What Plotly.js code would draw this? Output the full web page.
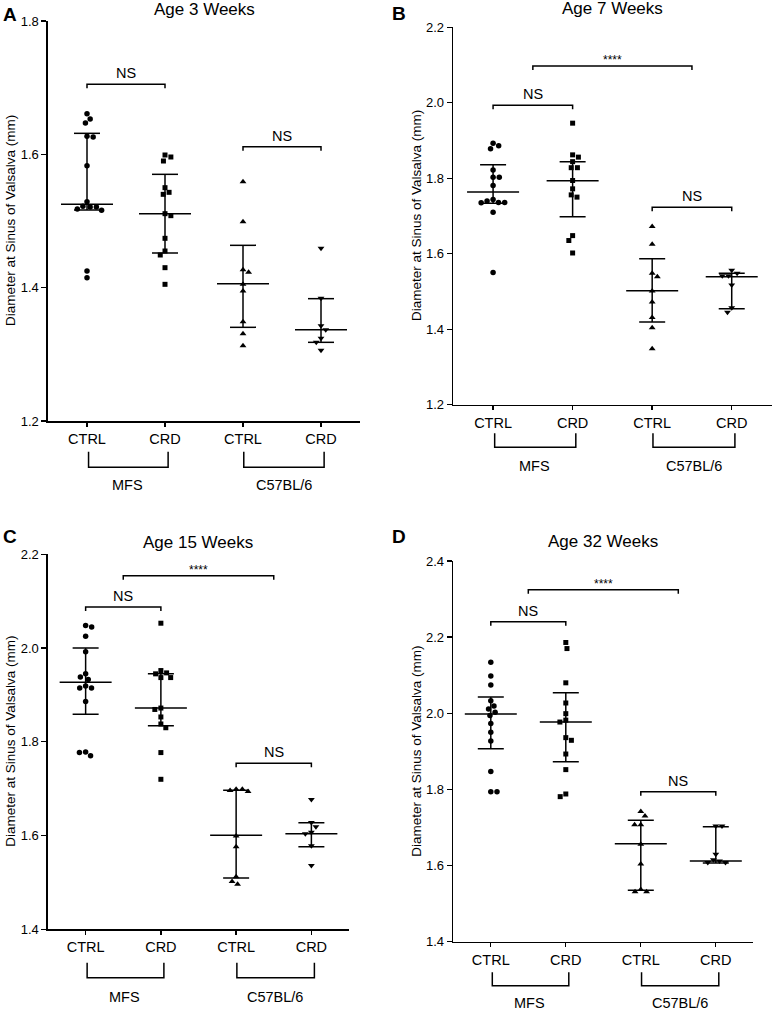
<!DOCTYPE html>
<html>
<head>
<meta charset="utf-8">
<script src="https://cdn.plot.ly/plotly-3.0.1.min.js"></script>
<style>html,body{margin:0;padding:0;background:#fff;}#chart{width:773px;height:1010px;}</style>
</head>
<body>
<div id="chart"></div>
<script>
// ---------------- DATA ----------------
const categories = ['CTRL', 'CRD', 'CTRL', 'CRD'];
const groups = ['MFS', 'C57BL/6'];
const panelTitles = ['Age 3 Weeks', 'Age 7 Weeks', 'Age 15 Weeks', 'Age 32 Weeks'];
const panelLetters = ['A', 'B', 'C', 'D'];
const yTitle = 'Diameter at Sinus of Valsalva (mm)';

// Age 3 weeks
const w3_mfs_ctrl = [1.661, 1.653, 1.647, 1.627, 1.626, 1.583, 1.529, 1.522, 1.521, 1.521, 1.518, 1.516, 1.425, 1.415];
const w3_mfs_crd  = [1.599, 1.596, 1.590, 1.550, 1.543, 1.540, 1.511, 1.508, 1.474, 1.455, 1.449, 1.430, 1.405];
const w3_c57_ctrl = [1.559, 1.499, 1.427, 1.423, 1.405, 1.395, 1.349, 1.331, 1.313];
const w3_c57_crd  = [1.459, 1.384, 1.343, 1.337, 1.324, 1.318, 1.306];
const w3_median = [1.525, 1.511, 1.406, 1.337];
const w3_q1     = [1.5165, 1.452, 1.3405, 1.318];
const w3_q3     = [1.6315, 1.570, 1.4635, 1.3835];

// Age 7 weeks
const w7_mfs_ctrl = [1.893, 1.886, 1.878, 1.822, 1.803, 1.803, 1.781, 1.744, 1.740, 1.736, 1.736, 1.735, 1.710, 1.550];
const w7_mfs_crd  = [1.946, 1.862, 1.856, 1.844, 1.828, 1.828, 1.794, 1.772, 1.756, 1.750, 1.648, 1.635, 1.602];
const w7_c57_ctrl = [1.672, 1.625, 1.548, 1.539, 1.501, 1.472, 1.431, 1.404, 1.348];
const w7_c57_crd  = [1.556, 1.548, 1.542, 1.542, 1.517, 1.457, 1.445];
const w7_median = [1.7636, 1.7935, 1.502, 1.539];
const w7_q1     = [1.7336, 1.698, 1.419, 1.4544];
const w7_q3     = [1.836, 1.844, 1.587, 1.548];

// Age 15 weeks
const w15_mfs_ctrl = [2.048, 2.045, 2.025, 1.992, 1.945, 1.938, 1.933, 1.919, 1.915, 1.915, 1.886, 1.778, 1.777, 1.770];
const w15_mfs_crd  = [2.053, 1.952, 1.947, 1.945, 1.937, 1.937, 1.872, 1.869, 1.853, 1.838, 1.830, 1.777, 1.720];
const w15_c57_ctrl = [1.699, 1.699, 1.696, 1.694, 1.599, 1.576, 1.512, 1.502, 1.496];
const w15_c57_crd  = [1.677, 1.628, 1.619, 1.607, 1.604, 1.578, 1.536];
const w15_median = [1.927, 1.872, 1.6005, 1.604];
const w15_q1     = [1.8587, 1.8344, 1.5094, 1.5763];
const w15_q3     = [2.000, 1.9453, 1.6965, 1.6274];

// Age 32 weeks
const w32_mfs_ctrl = [2.134, 2.098, 2.074, 2.033, 2.019, 2.011, 2.003, 1.994, 1.973, 1.950, 1.927, 1.847, 1.794, 1.794];
const w32_mfs_crd  = [2.186, 2.170, 2.080, 2.027, 1.999, 1.982, 1.977, 1.936, 1.929, 1.893, 1.852, 1.788, 1.781];
const w32_c57_ctrl = [1.742, 1.730, 1.707, 1.707, 1.656, 1.604, 1.537, 1.531, 1.531];
const w32_c57_crd  = [1.704, 1.704, 1.630, 1.615, 1.612, 1.608, 1.608];
const w32_median = [1.998, 1.977, 1.6575, 1.612];
const w32_q1     = [1.907, 1.8728, 1.535, 1.607];
const w32_q3     = [2.0428, 2.054, 1.719, 1.702];

// Significance labels
const sigLabels = ['NS', '****'];

// ---------------- LAYOUT / GEOMETRY ----------------
const W = 773, H = 1010;
const FONT = 'Liberation Sans, Arial, Helvetica, sans-serif';

const panelData = [
  {series: [w3_mfs_ctrl, w3_mfs_crd, w3_c57_ctrl, w3_c57_crd], med: w3_median, q1: w3_q1, q3: w3_q3},
  {series: [w7_mfs_ctrl, w7_mfs_crd, w7_c57_ctrl, w7_c57_crd], med: w7_median, q1: w7_q1, q3: w7_q3},
  {series: [w15_mfs_ctrl, w15_mfs_crd, w15_c57_ctrl, w15_c57_crd], med: w15_median, q1: w15_q1, q3: w15_q3},
  {series: [w32_mfs_ctrl, w32_mfs_crd, w32_c57_ctrl, w32_c57_crd], med: w32_median, q1: w32_q1, q3: w32_q3}
];

const geo = [
  {l: 48, r: 360, t: 21, b: 421, yr: [1.2, 1.8], titleY: 9, letterX: 10, letterY: 14.5, ytX: 11, brTop: 451.7, brBot: 467.3, grpY: 485,
   sig: [{x0: 0, x1: 1, y: 1.705, s: 0}, {x0: 2, x1: 3, y: 1.6115, s: 0}]},
  {l: 453.3, r: 771.5, t: 27.3, b: 404.7, yr: [1.2, 2.2], titleY: 8.5, letterX: 399, letterY: 13.7, ytX: 417, brTop: 433.3, brBot: 447.3, grpY: 465.7,
   sig: [{x0: 0.5, x1: 2.5, y: 2.0975, s: 1}, {x0: 0, x1: 1, y: 1.9933, s: 0}, {x0: 2, x1: 3, y: 1.723, s: 0}]},
  {l: 48, r: 349, t: 554.3, b: 929.3, yr: [1.4, 2.2], titleY: 542.5, letterX: 10, letterY: 536, ytX: 11, brTop: 962.7, brBot: 977.7, grpY: 996.7,
   sig: [{x0: 0.5, x1: 2.5, y: 2.1544, s: 1}, {x0: 0, x1: 1, y: 2.0876, s: 0}, {x0: 2, x1: 3, y: 1.754, s: 0}]},
  {l: 453.3, r: 753.3, t: 561, b: 941.7, yr: [1.4, 2.4], titleY: 541.7, letterX: 399, letterY: 536, ytX: 416.5, brTop: 972.3, brBot: 985.7, grpY: 1003.3,
   sig: [{x0: 0.5, x1: 2.5, y: 2.3247, s: 1}, {x0: 0, x1: 1, y: 2.2406, s: 0}, {x0: 2, x1: 3, y: 1.794, s: 0}]}
];

const markerSymbols = ['circle', 'square', 'triangle-up', 'triangle-down'];
const markerSizes = [5.5, 5, 6, 6];
const XR = [-0.5, 3.5];

// beeswarm horizontal layout (pixel space)
function swarm(vals, pxPerY, d) {
  const n = vals.length;
  const order = vals.map((v, i) => i).sort((a, b) => vals[b] - vals[a]);
  const placed = [];
  const xs = new Array(n).fill(0);
  let flip = 1;
  for (const idx of order) {
    const yp = vals[idx] * pxPerY;
    const iv = [];
    for (const p of placed) {
      const dy = Math.abs(p.y - yp);
      if (dy < d) {
        const h = Math.sqrt(d * d - dy * dy);
        iv.push([p.x - h, p.x + h]);
      }
    }
    const cands = [0];
    iv.forEach(q => { cands.push(q[0], q[1]); });
    cands.sort((a, b) => Math.abs(a) - Math.abs(b) || (flip * (b - a)));
    let chosen = 0;
    for (const c of cands) {
      if (iv.every(q => c <= q[0] + 1e-6 || c >= q[1] - 1e-6)) { chosen = c; break; }
    }
    if (chosen !== 0) flip = -flip;
    placed.push({x: chosen, y: yp});
    xs[idx] = chosen;
  }
  return xs;
}

const traces = [];
const shapes = [];
const annotations = [];
const layout = {
  width: W, height: H,
  margin: {l: 0, r: 0, t: 0, b: 0},
  paper_bgcolor: '#ffffff', plot_bgcolor: '#ffffff',
  showlegend: false,
  font: {family: FONT, color: '#000'},
  shapes: shapes, annotations: annotations
};

geo.forEach((g, p) => {
  const sfx = p === 0 ? '' : String(p + 1);
  const xa = 'x' + sfx, ya = 'y' + sfx;
  const plotH = g.b - g.t, plotW = g.r - g.l;
  const pxPerY = plotH / (g.yr[1] - g.yr[0]);
  const pxPerX = plotW / (XR[1] - XR[0]);
  const pd = panelData[p];

  layout['xaxis' + sfx] = {
    domain: [g.l / W, g.r / W], range: XR, anchor: ya,
    tickmode: 'array', tickvals: [0, 1, 2, 3], ticktext: categories,
    showline: true, linecolor: '#000', linewidth: 1.6, ticks: 'outside', ticklen: 4, tickwidth: 1.4, tickcolor: '#000',
    showgrid: false, zeroline: false, fixedrange: true,
    tickfont: {family: FONT, size: 14.5, color: '#000'}
  };
  layout['yaxis' + sfx] = {
    domain: [1 - g.b / H, 1 - g.t / H], range: g.yr, anchor: xa,
    tick0: 0, dtick: 0.2, tickformat: '.1f',
    showline: true, linecolor: '#000', linewidth: 1.6, ticks: 'outside', ticklen: 5, tickwidth: 1.4, tickcolor: '#000',
    showgrid: false, zeroline: false, fixedrange: true,
    tickfont: {family: FONT, size: 13, color: '#000'}
  };

  // points
  pd.series.forEach((vals, k) => {
    const offs = swarm(vals, pxPerY, 6.2);
    traces.push({
      type: 'scatter', mode: 'markers', xaxis: xa, yaxis: ya,
      x: vals.map((v, i) => k + offs[i] / pxPerX), y: vals,
      marker: {symbol: markerSymbols[k], size: markerSizes[k], color: '#000', line: {width: 0}},
      hoverinfo: 'y', cliponaxis: false
    });
  });

  // median + IQR
  const lx = [], ly = [];
  const mh = 26 / pxPerX, ch = 13 / pxPerX;
  for (let k = 0; k < 4; k++) {
    lx.push(k - mh, k + mh, null); ly.push(pd.med[k], pd.med[k], null);
    lx.push(k, k, null); ly.push(pd.q1[k], pd.q3[k], null);
    lx.push(k - ch, k + ch, null); ly.push(pd.q1[k], pd.q1[k], null);
    lx.push(k - ch, k + ch, null); ly.push(pd.q3[k], pd.q3[k], null);
  }
  traces.push({type: 'scatter', mode: 'lines', xaxis: xa, yaxis: ya, x: lx, y: ly,
    line: {color: '#000', width: 1.5}, hoverinfo: 'skip'});

  // significance brackets
  const tickD = 4 / pxPerY;
  g.sig.forEach(sg => {
    shapes.push({type: 'path', xref: xa, yref: ya,
      path: `M ${sg.x0},${sg.y - tickD} L ${sg.x0},${sg.y} L ${sg.x1},${sg.y} L ${sg.x1},${sg.y - tickD}`,
      line: {color: '#000', width: 1.5}});
    const star = sg.s === 1;
    annotations.push({xref: xa, yref: ya, x: (sg.x0 + sg.x1) / 2, y: sg.y, text: sigLabels[sg.s],
      showarrow: false, yanchor: 'bottom', xanchor: 'center', yshift: star ? -3 : 1,
      font: {family: FONT, size: star ? 12 : 14.5, color: '#000'}});
  });

  // group brackets below axis
  const pt = 1 - g.brTop / H, pb = 1 - g.brBot / H;
  [[0.02, 1.04], [2.01, 3.04]].forEach((r, gi) => {
    shapes.push({type: 'path', xref: xa, yref: 'paper',
      path: `M ${r[0]},${pt} L ${r[0]},${pb} L ${r[1]},${pb} L ${r[1]},${pt}`,
      line: {color: '#000', width: 1.5}});
    annotations.push({xref: xa, yref: 'paper', x: gi * 2 + 0.52, y: 1 - g.grpY / H, text: groups[gi],
      showarrow: false, xanchor: 'center', yanchor: 'middle',
      font: {family: FONT, size: 14.5, color: '#000'}});
  });

  // panel title
  annotations.push({xref: 'paper', yref: 'paper', x: (g.l + g.r) / 2 / W, y: 1 - g.titleY / H,
    text: panelTitles[p], showarrow: false, xanchor: 'center', yanchor: 'middle',
    font: {family: FONT, size: 17, color: '#000'}});
  // panel letter
  annotations.push({xref: 'paper', yref: 'paper', x: g.letterX / W, y: 1 - g.letterY / H,
    text: '<b>' + panelLetters[p] + '</b>', showarrow: false, xanchor: 'center', yanchor: 'middle',
    font: {family: FONT, size: 19, color: '#000'}});
  // y axis title
  annotations.push({xref: 'paper', yref: 'paper', x: g.ytX / W, y: 1 - (g.t + g.b) / 2 / H,
    text: yTitle, textangle: -90, showarrow: false, xanchor: 'center', yanchor: 'middle',
    font: {family: FONT, size: 13.5, color: '#000'}});
});

Plotly.newPlot('chart', traces, layout, {displayModeBar: false, staticPlot: true});
</script>
</body>
</html>
